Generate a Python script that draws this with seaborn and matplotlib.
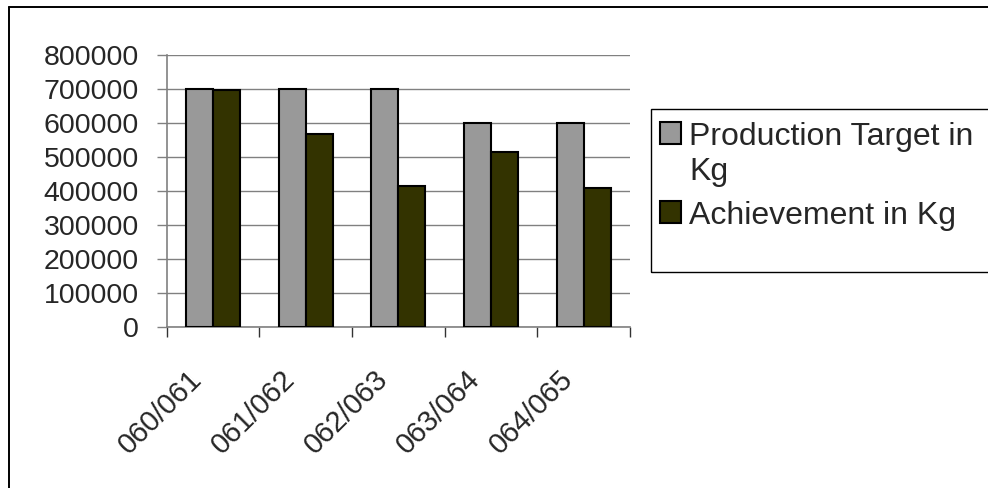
import matplotlib
matplotlib.use("Agg")
import matplotlib.pyplot as plt
from matplotlib.transforms import ScaledTranslation
from matplotlib.lines import Line2D
from matplotlib.patches import Rectangle
import seaborn as sns
import pandas as pd

# Fiscal years and production figures (kg)
seasons = ["060/061", "061/062", "062/063", "063/064", "064/065"]
target_kg = [700000, 700000, 700000, 600000, 600000]
achievement_kg = [697000, 567000, 414000, 514000, 408000]
series_names = ["Production Target in Kg", "Achievement in Kg"]
y_ticks = [0, 100000, 200000, 300000, 400000, 500000, 600000, 700000, 800000]

df = pd.DataFrame({
    "season": seasons * 2,
    "kg": target_kg + achievement_kg,
    "series": [series_names[0]] * len(seasons) + [series_names[1]] * len(seasons),
})

sns.set_style("white")
plt.rcParams["font.family"] = ["Liberation Sans", "DejaVu Sans"]

W, H = 988, 488
fig = plt.figure(figsize=(W / 100, H / 100), dpi=100)
ax = fig.add_axes([166.7 / W, 1 - 326.7 / H, (630 - 166.7) / W, (326.7 - 54.7) / H])

sns.barplot(data=df, x="season", y="kg", hue="series",
            palette=["#999999", "#333300"], saturation=1,
            width=0.58, gap=0, edgecolor="black", linewidth=1.5,
            ax=ax, zorder=3)

ax.set_xlim(-0.5, len(seasons) - 0.5)
ax.set_ylim(0, 800000)
ax.set_xlabel("")
ax.set_ylabel("")

# Horizontal gridlines
ax.set_yticks(y_ticks)
ax.set_yticklabels([str(v) for v in y_ticks], fontsize=20.5)
ax.yaxis.grid(True, color="#808080", linewidth=1.0, zorder=0)
ax.xaxis.grid(False)
ax.tick_params(axis="y", which="major", direction="out", length=7,
               width=1, color="#808080", pad=13, left=True)

# Category labels at bar centres, tick marks at category boundaries
ax.set_xticks(range(len(seasons)))
ax.set_xticklabels(seasons, fontsize=21, rotation=45, ha="right",
                   va="top", rotation_mode="anchor")
ax.tick_params(axis="x", which="major", length=0, pad=0)
ax.set_xticks([i - 0.5 for i in range(len(seasons) + 1)], minor=True)
ax.tick_params(axis="x", which="minor", direction="out", length=7,
               width=1, color="#333333", bottom=True)
shift = ScaledTranslation(-25 / 100, -38 / 100, fig.dpi_scale_trans)
for lab in ax.get_xticklabels():
    lab.set_transform(lab.get_transform() + shift)

for side in ["top", "right"]:
    ax.spines[side].set_visible(False)
for side in ["left", "bottom"]:
    ax.spines[side].set_color("#808080")
    ax.spines[side].set_linewidth(1.2)

# Legend inside an open-ended box on the right
handles, labels = ax.get_legend_handles_labels()
ax.get_legend().remove()
fig.patches.append(Rectangle((651 / W, 1 - 272 / H), (W + 20 - 651) / W,
                             (272 - 109) / H, transform=fig.transFigure,
                             fill=False, edgecolor="black", linewidth=1.0))
leg = fig.legend(handles, ["Production Target in\nKg", "Achievement in Kg"],
                 loc="upper left", bbox_to_anchor=(660 / W, 1 - 122 / H),
                 frameon=False, fontsize=23, borderpad=0, borderaxespad=0,
                 handlelength=0.66, handleheight=0.66, handletextpad=0.26,
                 labelspacing=0.45)
# Left-align the rows and put each swatch level with the first line of its label
for column in leg._legend_handle_box.get_children():
    column.align = "left"
    for row in column.get_children():
        row.align = "top"

# Outer chart border
fig.add_artist(Line2D([9 / W, 9 / W], [-0.05, 1 - 7 / H], transform=fig.transFigure,
                      color="black", linewidth=1.4))
fig.add_artist(Line2D([9 / W, 1.05], [1 - 7 / H, 1 - 7 / H], transform=fig.transFigure,
                      color="black", linewidth=1.4))

fig.savefig("out.png", dpi=100, facecolor="white")
